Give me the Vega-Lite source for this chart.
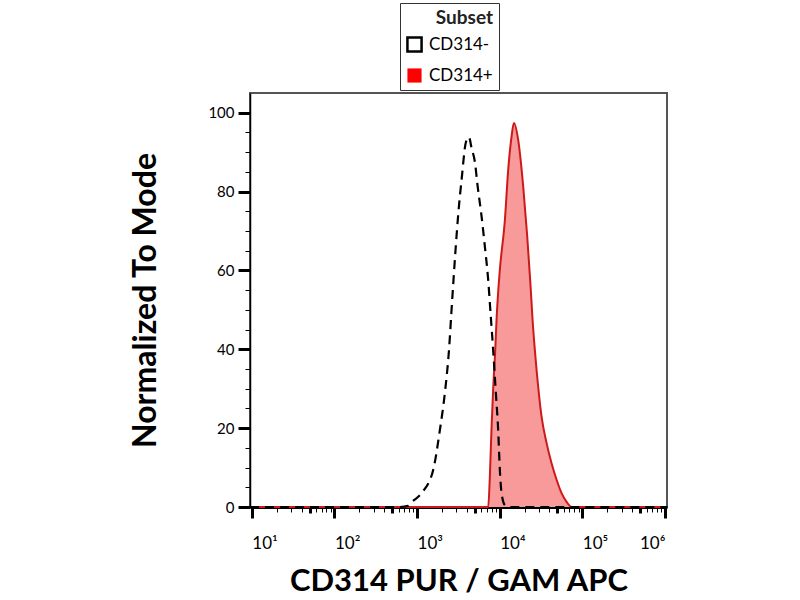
{
  "$schema": "https://vega.github.io/schema/vega-lite/v6.json",
  "width": 417,
  "height": 414,
  "autosize": {"type": "none"},
  "padding": {"left": 250, "top": 93, "right": 133, "bottom": 93},
  "config": {
    "font": "Lato",
    "view": {"stroke": "#555555", "strokeWidth": 2},
    "axis": {"grid": false, "labelColor": "black", "titleColor": "black", "domainColor": "black", "tickColor": "black"},
    "legend": {
      "orient": "none",
      "legendX": 150,
      "legendY": -90,
      "direction": "vertical",
      "symbolType": "square",
      "symbolSize": 200,
      "titleFontSize": 19,
      "titleFontWeight": "bold",
      "titleAnchor": "end",
      "titlePadding": 8,
      "titleColor": "#222222",
      "labelFontSize": 17,
      "labelColor": "black",
      "labelOffset": 6,
      "rowPadding": 9,
      "padding": 6,
      "strokeColor": "#333333",
      "fillColor": "white"
    }
  },
  "data": {
    "values": [
      {"subset": "CD314-", "fl": 9.5, "pct": 0},
      {"subset": "CD314-", "fl": 600, "pct": 0},
      {"subset": "CD314-", "fl": 780, "pct": 0.3},
      {"subset": "CD314-", "fl": 857, "pct": 1.2},
      {"subset": "CD314-", "fl": 1132, "pct": 3.5},
      {"subset": "CD314-", "fl": 1567, "pct": 9.4},
      {"subset": "CD314-", "fl": 1888, "pct": 19.5},
      {"subset": "CD314-", "fl": 2172, "pct": 29},
      {"subset": "CD314-", "fl": 2448, "pct": 40.5},
      {"subset": "CD314-", "fl": 2600, "pct": 49.2},
      {"subset": "CD314-", "fl": 2760, "pct": 57.6},
      {"subset": "CD314-", "fl": 2940, "pct": 66},
      {"subset": "CD314-", "fl": 3160, "pct": 74.6},
      {"subset": "CD314-", "fl": 3459, "pct": 83},
      {"subset": "CD314-", "fl": 3900, "pct": 92.5},
      {"subset": "CD314-", "fl": 4250, "pct": 93.8},
      {"subset": "CD314-", "fl": 4571, "pct": 91},
      {"subset": "CD314-", "fl": 5012, "pct": 87.5},
      {"subset": "CD314-", "fl": 5400, "pct": 81.5},
      {"subset": "CD314-", "fl": 6036, "pct": 73.7},
      {"subset": "CD314-", "fl": 6622, "pct": 66},
      {"subset": "CD314-", "fl": 7260, "pct": 57.6},
      {"subset": "CD314-", "fl": 7750, "pct": 49.2},
      {"subset": "CD314-", "fl": 8340, "pct": 39.8},
      {"subset": "CD314-", "fl": 8990, "pct": 28.9},
      {"subset": "CD314-", "fl": 9590, "pct": 19.5},
      {"subset": "CD314-", "fl": 10050, "pct": 9.4},
      {"subset": "CD314-", "fl": 10540, "pct": 3.5},
      {"subset": "CD314-", "fl": 11560, "pct": 0.5},
      {"subset": "CD314-", "fl": 13000, "pct": 0},
      {"subset": "CD314-", "fl": 1060000, "pct": 0},
      {"subset": "CD314+", "fl": 9.5, "pct": 0},
      {"subset": "CD314+", "fl": 7260, "pct": 0},
      {"subset": "CD314+", "fl": 7603, "pct": 7.7},
      {"subset": "CD314+", "fl": 7980, "pct": 20.4},
      {"subset": "CD314+", "fl": 8340, "pct": 30},
      {"subset": "CD314+", "fl": 8800, "pct": 39},
      {"subset": "CD314+", "fl": 9162, "pct": 47.5},
      {"subset": "CD314+", "fl": 9550, "pct": 54},
      {"subset": "CD314+", "fl": 10050, "pct": 60.2},
      {"subset": "CD314+", "fl": 11560, "pct": 72.8},
      {"subset": "CD314+", "fl": 12680, "pct": 85.5},
      {"subset": "CD314+", "fl": 13930, "pct": 94},
      {"subset": "CD314+", "fl": 14860, "pct": 97.4},
      {"subset": "CD314+", "fl": 16750, "pct": 93.1},
      {"subset": "CD314+", "fl": 19260, "pct": 81.3},
      {"subset": "CD314+", "fl": 21550, "pct": 68.6},
      {"subset": "CD314+", "fl": 23670, "pct": 55.9},
      {"subset": "CD314+", "fl": 25010, "pct": 47.5},
      {"subset": "CD314+", "fl": 26660, "pct": 39.8},
      {"subset": "CD314+", "fl": 29240, "pct": 30.5},
      {"subset": "CD314+", "fl": 32140, "pct": 22.9},
      {"subset": "CD314+", "fl": 36970, "pct": 16.2},
      {"subset": "CD314+", "fl": 42460, "pct": 11.1},
      {"subset": "CD314+", "fl": 48860, "pct": 6.9},
      {"subset": "CD314+", "fl": 56140, "pct": 3.5},
      {"subset": "CD314+", "fl": 64580, "pct": 1.3},
      {"subset": "CD314+", "fl": 74240, "pct": 0},
      {"subset": "CD314+", "fl": 1060000, "pct": 0}
    ]
  },
  "resolve": {"axis": {"x": "independent", "y": "independent"}},
  "layer": [
    {
      "transform": [{"filter": "datum.subset == 'CD314+'"}],
      "mark": {"type": "area", "interpolate": "monotone", "color": "#f89a9a", "opacity": 1},
      "encoding": {
        "x": {
          "field": "fl",
          "type": "quantitative",
          "title": "CD314 PUR / GAM APC",
          "scale": {"type": "log", "domain": [9.5, 1060000], "nice": false},
          "axis": {
            "orient": "bottom",
            "values": [10, 100, 1000, 10000, 100000, 1000000],
            "labelExpr": "'10' + ['', '¹', '²', '³', '⁴', '⁵', '⁶'][round(log(datum.value) / LN10)]",
            "labelAlign": {"condition": {"test": "datum.value >= 1000000", "value": "right"}, "value": "left"},
            "labelFlush": false,
            "labelOverlap": false,
            "labelFontSize": 17,
            "labelPadding": 17,
            "domainWidth": 3,
            "tickSize": 11,
            "tickWidth": 3,
            "titleFontSize": 31,
            "titleFontWeight": "bold",
            "titlePadding": 15
          }
        },
        "y": {
          "field": "pct",
          "type": "quantitative",
          "title": "Normalized To Mode",
          "scale": {"domain": [0, 105], "nice": false},
          "axis": {
            "orient": "left",
            "values": [0, 20, 40, 60, 80, 100],
            "labelFontSize": 15,
            "labelPadding": 4,
            "domainWidth": 1.5,
            "tickSize": 12,
            "tickWidth": 3,
            "titleFontSize": 32,
            "titleFontWeight": "bold",
            "titlePadding": 45
          }
        }
      }
    },
    {
      "transform": [{"filter": "datum.subset == 'CD314+'"}],
      "mark": {"type": "line", "interpolate": "monotone", "strokeWidth": 2},
      "encoding": {
        "x": {
          "field": "fl",
          "type": "quantitative",
          "axis": {
            "orient": "bottom",
            "values": [50, 500, 5000, 50000, 500000],
            "labels": false,
            "domain": false,
            "title": null,
            "tickSize": 6,
            "tickWidth": 3
          }
        },
        "y": {
          "field": "pct",
          "type": "quantitative",
          "axis": {
            "orient": "left",
            "values": [5, 10, 15, 25, 30, 35, 45, 50, 55, 65, 70, 75, 85, 90, 95],
            "labels": false,
            "domain": false,
            "title": null,
            "tickSize": 5,
            "tickWidth": 1
          }
        },
        "stroke": {
          "field": "subset",
          "type": "nominal",
          "title": "Subset",
          "scale": {"domain": ["CD314-", "CD314+"], "range": ["#000000", "#cc1a1a"]},
          "legend": {
            "labelFontSize": 17,
            "encode": {
              "labels": {
                "update": {
                  "fontSize": {"value": 17}
                }
              },
              "symbols": {
                "update": {
                  "fill": {"signal": "datum.label == 'CD314+' ? '#ff0000' : '#ffffff'"},
                  "stroke": {"value": "#000000"},
                  "strokeWidth": {"signal": "datum.label == 'CD314+' ? 0 : 2.5"},
                  "opacity": {"value": 1},
                  "fillOpacity": {"value": 1}
                }
              }
            }
          }
        }
      }
    },
    {
      "transform": [{"filter": "datum.subset == 'CD314-'"}],
      "mark": {"type": "line", "interpolate": "monotone", "strokeWidth": 2.2, "strokeDash": [9, 6]},
      "encoding": {
        "x": {
          "field": "fl",
          "type": "quantitative",
          "axis": {
            "orient": "bottom",
            "values": [20, 30, 40, 60, 70, 80, 90, 200, 300, 400, 600, 700, 800, 900, 2000, 3000, 4000, 6000, 7000, 8000, 9000, 20000, 30000, 40000, 60000, 70000, 80000, 90000, 200000, 300000, 400000, 600000, 700000, 800000, 900000],
            "labels": false,
            "domain": false,
            "title": null,
            "tickSize": 5,
            "tickWidth": 1
          }
        },
        "y": {"field": "pct", "type": "quantitative", "axis": null},
        "stroke": {"field": "subset", "type": "nominal", "title": "Subset"}
      }
    }
  ]
}
